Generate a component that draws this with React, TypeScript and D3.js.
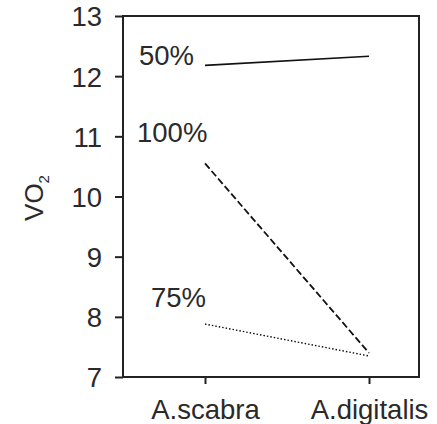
import { useEffect, useRef } from "react";
import * as d3 from "d3";

const species = ["A.scabra", "A.digitalis"];
const yTicks = [7, 8, 9, 10, 11, 12, 13];

const series50 = [12.18, 12.33];
const series100 = [10.55, 7.4];
const series75 = [7.88, 7.35];

const seriesNames = ["50%", "100%", "75%"];
// label value (where the text baseline sits, in data units) for each series
const labelValues = [12.18, 10.9, 8.17];

export default function App() {
  const svgRef = useRef<SVGSVGElement>(null);

  const width = 437;
  const height = 424;
  const frame = { left: 123, right: 419, top: 16, bottom: 377 };

  useEffect(() => {
    const svg = d3.select(svgRef.current);
    svg.selectAll("*").remove();

    const y = d3.scaleLinear([7, 13], [frame.bottom, frame.top]);
    const x = d3.scalePoint(species, [205, 369]);
    const ink = "#222";
    const font = "Liberation Sans, Arial, sans-serif";

    // box around the plot
    svg
      .append("rect")
      .attr("x", frame.left)
      .attr("y", frame.top)
      .attr("width", frame.right - frame.left)
      .attr("height", frame.bottom - frame.top)
      .attr("fill", "none")
      .attr("stroke", ink)
      .attr("stroke-width", 2);

    // y axis
    const yAxis = svg
      .append("g")
      .attr("transform", `translate(${frame.left},0)`)
      .call(d3.axisLeft(y).tickValues(yTicks).tickSize(8).tickPadding(13).tickFormat(d3.format("d")));
    yAxis.select(".domain").remove();
    yAxis.selectAll("line").attr("stroke", ink).attr("stroke-width", 2);
    yAxis
      .selectAll("text")
      .attr("fill", "#2a2a2a")
      .style("font", `27.5px ${font}`)
      .attr("dy", "0.36em");

    // x axis
    const xAxis = svg
      .append("g")
      .attr("transform", `translate(0,${frame.bottom})`)
      .call(d3.axisBottom(x).tickSize(7).tickPadding(15));
    xAxis.select(".domain").remove();
    xAxis.selectAll("line").attr("stroke", ink).attr("stroke-width", 2);
    xAxis
      .selectAll("text")
      .attr("fill", "#2a2a2a")
      .style("font", `27.5px ${font}`)
      .attr("dy", "0.71em");

    // y title VO2
    const title = svg
      .append("text")
      .attr("transform", `translate(43,198) rotate(-90)`)
      .attr("text-anchor", "middle")
      .attr("fill", "#2a2a2a")
      .style("font", `26px ${font}`);
    title.append("tspan").text("VO");
    title.append("tspan").attr("dy", 6).style("font-size", "15px").text("2");

    const line = d3
      .line<number>()
      .x((_, i) => x(species[i]) as number)
      .y((d) => y(d));

    const all = [series50, series100, series75];
    const dashes = [null, "7,3", "1.5,2"];
    const widths = [1.6, 1.8, 1.4];

    svg
      .append("g")
      .selectAll("path")
      .data(all)
      .join("path")
      .attr("d", (d) => line(d))
      .attr("fill", "none")
      .attr("stroke", "#111")
      .attr("stroke-width", (_, i) => widths[i])
      .attr("stroke-dasharray", (_, i) => dashes[i]);

    const labelX = [139, 137, 151];
    svg
      .append("g")
      .selectAll("text")
      .data(seriesNames)
      .join("text")
      .attr("x", (_, i) => labelX[i])
      .attr("y", (_, i) => y(labelValues[i]))
      .attr("fill", "#2a2a2a")
      .style("font", `27.5px ${font}`)
      .text((d) => d);
  }, []);

  return (
    <svg
      ref={svgRef}
      width={width}
      height={height}
      style={{ position: "absolute", left: 0, top: 0, background: "#fff" }}
    />
  );
}
